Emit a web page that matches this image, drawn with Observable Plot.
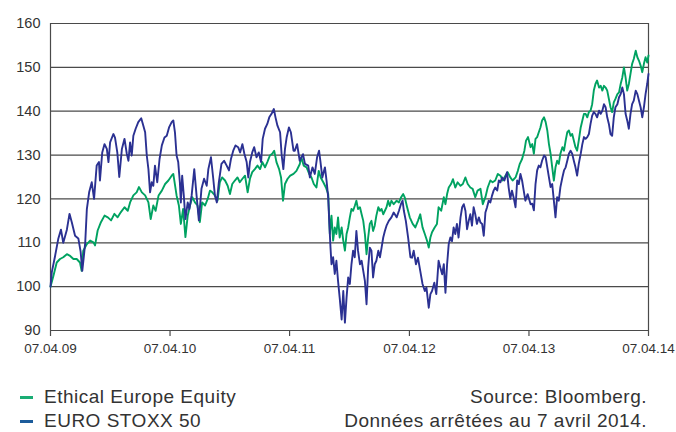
<!DOCTYPE html>
<html><head><meta charset="utf-8">
<script src="https://cdn.jsdelivr.net/npm/d3@7"></script>
<script src="https://cdn.jsdelivr.net/npm/@observablehq/plot@0.6"></script>
<style>
html,body{margin:0;padding:0;background:#fff;}
body{width:676px;height:432px;overflow:hidden;position:relative;font-family:"Liberation Sans Narrow","Arial Narrow","Liberation Sans",sans-serif;}
#chart{position:absolute;left:0;top:0;}
.leg,.src{position:absolute;font-size:19px;line-height:24px;color:#333;letter-spacing:0.5px;white-space:nowrap;}
.leg{left:44px;}
.src{right:29px;text-align:right;}
.sw{position:absolute;left:-24px;top:11px;width:13px;height:3px;}
</style></head><body>
<div id="chart"></div>
<script>
const startDate = "2009-04-07";
const endDate = "2014-04-07";
// [days since 07.04.2009, index value]
const ethical = [[0,100],[9,102.5],[19,105.5],[29,106.3],[39,106.7],[50,107.4],[60,107],[70,106.3],[80,106.3],[90,105.5],[95,103.6],[100,108.2],[111,109.7],[121,110.5],[131,110.1],[136,109.4],[144,112.8],[154,114.7],[165,116.2],[175,115.8],[185,115.1],[195,116.6],[205,115.8],[215,117],[226,118.1],[236,117.3],[243,119.2],[253,120.8],[263,121.5],[270,122.7],[279,121.5],[289,120.8],[299,119.2],[306,115.4],[314,118.5],[321,117.3],[330,120.8],[340,121.9],[350,123.4],[360,124.2],[370,125.3],[375,125.7],
[385,120.8],[392,118.5],[398,114.3],[405,117.7],[412,111.3],[419,116.2],[426,118.5],[433,120.4],[441,119.2],[449,118.5],[456,114.7],[463,119.2],[472,118.5],[480,120],[487,121.9],[494,121.5],[502,120.8],[510,119.6],[517,123.8],[524,124.9],[533,124.2],[541,123],[548,121.1],[555,123.4],[563,124.2],[571,124.9],[578,123.8],[586,124.6],[594,125.3],[602,121.5],[609,124.6],[616,126.1],[624,126.8],[632,127.6],[640,126.8],[647,128.4],[655,127.2],[662,128.4],[670,129.9],[677,130.3],[683,131],[690,128.4],[698,126.8],[704,124.9],[710,119.6],[716,123.4],[724,124.6],[732,125.3],[742,125.7],
[751,126.4],[761,127.9],[766,129.5],[773,127.6],[782,127.2],[790,125.7],[797,124.9],[804,123.4],[812,122.6],[819,126.4],[825,124.9],[833,123.8],[841,122.6],[848,121.1],[853,112],[858,116.2],[863,110.5],[868,113.5],[873,112],[878,115.8],[883,111.2],[889,113.5],[894,110.5],[899,108.2],[904,112],[909,113.5],[914,115.8],[919,117.7],[924,117.3],[929,118.4],[934,119.6],[939,117.7],[945,118.1],[950,116.5],[955,115],[960,112],[965,107.4],[970,111.2],[975,114.3],[980,115],[985,112.7],[990,113.9],[995,116.2],[1001,118.1],[1006,117.3],[1011,117.7],[1016,116.5],[1021,117.3],[1026,118.1],[1031,119.6],[1036,118.4],[1041,119.6],[1048,118.8],[1057,119.6],[1064,119.2],[1070,120.3],[1077,121.1],[1082,120.3],[1089,118.1],[1097,115.8],
[1106,114.3],[1114,113.5],[1122,115],[1129,116.5],[1136,113.5],[1143,112],[1150,110.4],[1155,108.9],[1160,111.2],[1165,112.4],[1173,113.5],[1180,114.3],[1185,118.1],[1193,117.3],[1201,120.4],[1206,118.8],[1211,121.1],[1216,122.6],[1223,123.4],[1229,124.5],[1236,122.6],[1243,123.8],[1252,123],[1259,123.4],[1267,124.9],[1274,123.4],[1282,122.6],[1289,122.3],[1297,120.4],[1304,121.9],[1313,122.3],[1320,118.8],[1328,120.4],[1335,122.6],[1343,124.2],[1350,123.8],[1358,124.2],[1366,125.7],[1374,125.3],[1381,124.2],[1389,125.3],[1396,126.1],[1404,124.9],[1411,124.2],[1420,124.9],[1427,126.4],[1433,128],[1440,129.1],[1447,131],[1452,133.3],[1458,134.1],[1466,131.8],
[1471,132.5],[1476,130.3],[1481,133.7],[1486,134.1],[1491,135.2],[1496,136.3],[1501,137.9],[1507,138.6],[1512,137.5],[1517,135.6],[1522,132.5],[1527,130.3],[1532,127.2],[1537,124.2],[1542,127.2],[1547,128.7],[1552,128],[1557,130.3],[1563,131.8],[1568,131],[1573,133.3],[1578,135.2],[1583,135.6],[1588,134.4],[1593,134.8],[1598,133.3],[1603,131.8],[1608,131],[1613,133.3],[1619,136.3],[1624,137.9],[1629,139.4],[1634,139.4],[1639,138.6],[1644,139.8],[1649,140.1],[1654,141.6],[1659,144.7],[1664,146.2],[1669,147],[1675,145.4],[1680,145.8],[1685,144.7],[1690,145.8],[1695,145.4],[1700,144.7],[1705,142.8],[1710,140.9],[1715,139.8],[1720,142],[1725,142.8],[1731,143.9],[1736,144.3],[1741,146.2],[1746,147.7],[1751,150],[1756,147.7],[1761,144.7],[1766,146.2],[1771,148.5],[1776,150.8],[1781,151.9],[1787,153.8],[1792,152.3],[1797,151.5],[1802,150.4],[1807,148.9],[1812,150.8],[1817,152.3],[1822,151.1],[1826,152.7]];
const stoxx = [[0,100],[4,103.3],[14,107],[24,111],[32,113],[39,110],[50,113],[58,116.6],[65,114.7],[75,111.6],[85,111],[92,108],[97,103.6],[101,106.3],[106,110],[111,117.7],[118,121.5],[126,123.8],[133,120],[141,127.6],[148,128.4],[151,124.2],[158,130.6],[165,132.5],[172,131.4],[177,128.4],[182,132.9],[192,134.8],[197,134],[204,130.6],[210,125],[218,131.4],[226,133.7],[233,130.3],[238,128.7],[243,132.9],[248,129.9],[253,134.4],[260,136],[268,137.5],[277,138.4],[282,137.1],[289,135.2],[294,129.9],[299,126.8],[304,121.5],[309,123.8],[314,123],[319,127.6],[326,123.8],[333,129.1],[340,132.2],[348,134],[355,134.4],[362,136.3],[370,137.5],[375,137.9],
[380,135.2],[385,129.9],[390,128.4],[395,123.8],[398,119.2],[402,125.3],[407,120.8],[412,115.4],[419,119.2],[424,117.7],[431,120.8],[439,126.8],[446,120.8],[453,115.1],[461,122.3],[469,124.6],[477,123],[482,126.8],[490,129.5],[497,124.6],[502,120.8],[508,119.2],[514,123.8],[522,128],[530,128.7],[538,127.6],[545,126.5],[551,129.1],[558,131],[565,132.2],[573,131.8],[579,130.6],[586,132.5],[592,130.3],[599,128.4],[604,124.9],[609,128.4],[616,130.6],[622,131.8],[629,129.5],[636,130.6],[643,128.4],[648,133.7],[655,136],[662,137.1],[668,138.6],[675,139.4],[682,140.5],[687,138.6],[693,136.7],[701,135.2],[706,129.9],[711,126.8],[716,131.4],[721,134],[728,136.3],[734,135.2],[742,131],
[746,131],[753,132.5],[761,128.7],[771,130.2],[777,128],[787,127.6],[792,124.9],[800,127.2],[807,125.7],[814,129.5],[820,131],[824,128.7],[830,124.9],[838,127.2],[843,124.1],[848,120.3],[851,115],[855,108.9],[858,105.1],[863,106.7],[868,102.9],[873,105.9],[878,101.3],[883,97.5],[889,92.5],[894,99],[899,91.8],[904,97.5],[909,102.1],[914,100.6],[919,105.1],[924,108.2],[929,106.7],[934,112.7],[939,108.2],[945,105.1],[950,105.9],[955,103.6],[960,101.3],[965,96],[970,104.4],[975,108.9],[980,108.2],[985,102.1],[990,105.1],[995,105.9],[1001,108.2],[1006,106.7],[1011,108.9],[1016,111.2],[1021,112.7],[1026,113.9],[1033,115],[1041,115.8],[1048,116.9],[1057,115.8],[1064,117.3],[1070,118.8],[1075,119.6],[1079,117.3],[1085,115],[1092,111.2],[1099,106.7],
[1104,106.6],[1109,108.2],[1116,105.1],[1122,106.6],[1129,103.6],[1136,100.6],[1143,99],[1148,99.8],[1155,95.2],[1160,98.3],[1165,99],[1172,100.9],[1178,98.3],[1185,105.9],[1190,104.4],[1196,102.8],[1201,105.1],[1206,98.6],[1211,105.1],[1216,109.7],[1221,111.2],[1226,110.4],[1231,113.5],[1236,112],[1241,114.3],[1246,111.2],[1252,115.8],[1257,118.1],[1262,118.8],[1267,117.3],[1272,113.1],[1277,115],[1282,116.5],[1287,113.9],[1292,118.1],[1297,116.5],[1302,114.3],[1308,115.8],[1313,114.6],[1318,114.3],[1323,111.6],[1328,116.9],[1333,118.1],[1338,119.6],[1343,119.2],[1348,120.7],[1353,121.9],[1358,122.6],[1364,121.9],[1369,124.2],[1374,123.8],[1379,124.9],[1386,124.2],[1394,126.1],[1399,122.6],[1404,120],[1409,121.9],[1414,120.4],[1420,118.1],[1425,124.2],[1430,123.4],[1435,125.7],[1440,124.2],[1445,121.9],[1450,119.6],[1457,121.1],[1466,118.8],
[1471,118.9],[1476,117.4],[1481,123.4],[1486,126.5],[1491,127.6],[1496,127.2],[1501,128.7],[1507,129.9],[1512,129.5],[1517,127.2],[1522,124.9],[1527,122.7],[1532,123.4],[1537,119.6],[1542,115.8],[1547,120.4],[1552,119.6],[1557,122.7],[1563,124.9],[1568,126.5],[1573,127.2],[1578,128.7],[1583,130.3],[1588,131],[1593,130.3],[1598,128.7],[1603,127.2],[1608,125.3],[1613,128],[1619,130.3],[1624,132.5],[1629,134.1],[1634,133.7],[1639,134.1],[1644,134.8],[1649,137.1],[1654,139],[1659,139.8],[1664,139.4],[1669,138.6],[1675,140.1],[1680,139.4],[1685,140.1],[1690,141.6],[1695,140.9],[1700,138.6],[1705,137.1],[1710,134.8],[1715,134.4],[1720,138.6],[1725,140.9],[1731,141.6],[1736,143.2],[1741,143.9],[1746,145.4],[1751,143.9],[1756,139.4],[1761,137.9],[1766,136],[1771,139.4],[1776,141.6],[1781,142.4],[1787,144.7],[1792,143.9],[1797,142.4],[1802,140.9],[1807,138.6],[1812,140.9],[1817,143.9],[1822,146.2],[1826,148.5]];

const yTicks = [90,100,110,120,130,140,150,160];
const xTickDates = ["2009-04-07","2010-04-07","2011-04-07","2012-04-07","2013-04-07","2014-04-07"];
const xTickLabels = ["07.04.09","07.04.10","07.04.11","07.04.12","07.04.13","07.04.14"];
const seriesNames = ["Ethical Europe Equity","EURO STOXX 50"];
const lineColors = ["#00a261","#2b3192"];
const legendColors = ["#1aad74","#1c5c9b"];
const sourceLines = ["Source: Bloomberg.","Données arrêtées au 7 avril 2014."];

const t0 = new Date(startDate);
const t1 = new Date(endDate);
const toRows = (arr, name) => arr.map(([d, v]) => ({date: d3.utcDay.offset(t0, d), value: v, series: name}));
const rowsE = toRows(ethical, seriesNames[0]);
const rowsS = toRows(stoxx, seriesNames[1]);
const tickDates = xTickDates.map(s => new Date(s));
const labelOf = new Map(tickDates.map((d, i) => [+d, xTickLabels[i]]));

const chart = Plot.plot({
  width: 676, height: 362,
  marginLeft: 50, marginRight: 28, marginTop: 23, marginBottom: 32,
  x: {type: "utc", domain: [t0, t1], label: null},
  y: {domain: [90, 160], label: null},
  style: {background: "#fff", color: "#333", fontFamily: "'Liberation Sans Narrow','Arial Narrow',sans-serif"},
  marks: [
    Plot.gridY(yTicks, {stroke: "#4a4a4a", strokeOpacity: 1, strokeWidth: 1.2}),
    Plot.ruleX([t0, t1], {y1: 90, y2: 160, stroke: "#4a4a4a", strokeWidth: 1.2}),
    Plot.axisX(tickDates, {label: null, tickSize: 6, tickPadding: 7, stroke: "#4a4a4a", strokeWidth: 1.2, fontSize: 13.5, tickFormat: d => labelOf.get(+d)}),
    Plot.axisY(yTicks, {label: null, tickSize: 0, tickPadding: 10, fontSize: 14.5, fontFamily: "'Liberation Sans',Arial,sans-serif", fill: "#333"}),
    Plot.line(rowsE, {x: "date", y: "value", stroke: lineColors[0], strokeWidth: 1.9}),
    Plot.line(rowsS, {x: "date", y: "value", stroke: lineColors[1], strokeWidth: 1.9})
  ]
});
document.getElementById("chart").appendChild(chart);

const tops = [385, 409];
seriesNames.forEach((name, i) => {
  const div = document.createElement("div");
  div.className = "leg";
  div.style.top = tops[i] + "px";
  const sw = document.createElement("span");
  sw.className = "sw";
  sw.style.background = legendColors[i];
  div.appendChild(sw);
  div.appendChild(document.createTextNode(name));
  document.body.appendChild(div);
});
sourceLines.forEach((txt, i) => {
  const div = document.createElement("div");
  div.className = "src";
  div.style.top = tops[i] + "px";
  div.textContent = txt;
  document.body.appendChild(div);
});
</script>
</body></html>
